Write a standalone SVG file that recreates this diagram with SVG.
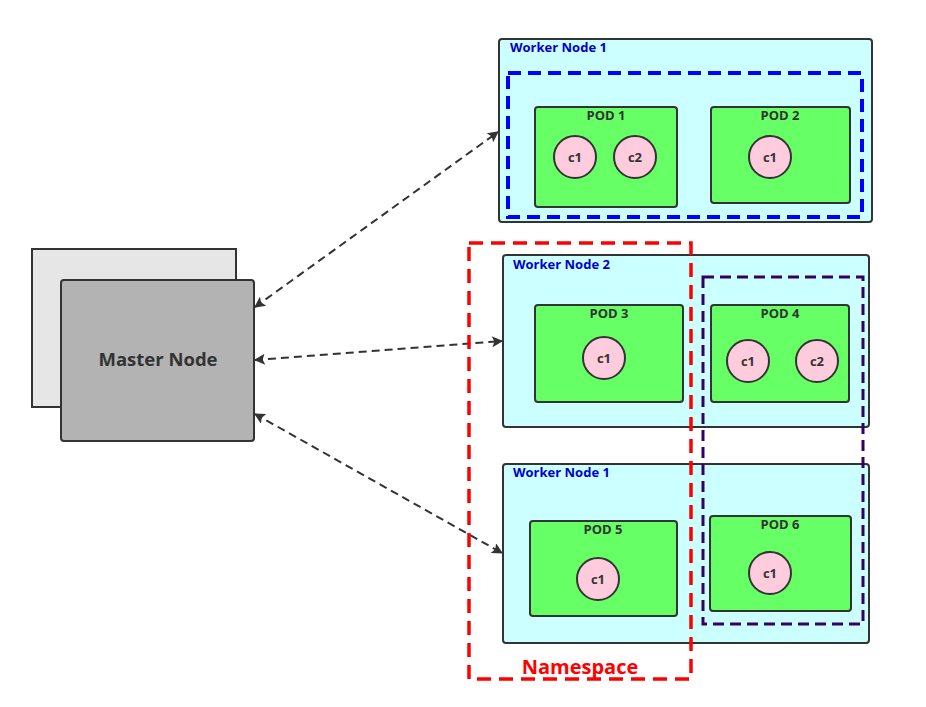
<svg xmlns="http://www.w3.org/2000/svg" width="926" height="707" viewBox="0 0 926 707">
<defs>
<marker id="ah" viewBox="0 0 10 10" refX="9" refY="5" markerWidth="14" markerHeight="11" markerUnits="userSpaceOnUse" orient="auto-start-reverse">
<path d="M0,0 L10,5 L0,10 L2,5 Z" fill="#333"/>
</marker>
<style>
text{font-family:"Open Sans","Liberation Sans",sans-serif;font-weight:bold}
.wn{fill:#ccffff;stroke:#333;stroke-width:2}
.wnl{fill:#0000cc;font-size:13px}
.pod{fill:#66ff66;stroke:#333;stroke-width:2}
.podl{fill:#333;font-size:13px;text-anchor:middle}
.c{fill:#ffccdd;stroke:#333;stroke-width:2}
.cl{fill:#333;font-size:13px;text-anchor:middle}
.conn{fill:none;stroke:#333;stroke-width:2;stroke-dasharray:8 5;marker-start:url(#ah);marker-end:url(#ah)}
</style>
</defs>
<rect width="926" height="707" fill="#fff"/>
<g id="master">
<rect x="32" y="249" width="204" height="158" fill="#e6e6e6" stroke="#333" stroke-width="2"/>
<rect x="61" y="280" width="193" height="161" rx="3" fill="#b3b3b3" stroke="#333" stroke-width="2"/>
<text x="158" y="366" font-size="18.5" fill="#333" text-anchor="middle">Master Node</text>
</g>
<g id="worker1">
<rect class="wn" x="499" y="39" width="373" height="183" rx="3"/>
<text class="wnl" x="510" y="52">Worker Node 1</text>
<rect x="508" y="73" width="354" height="144" fill="none" stroke="#0000ff" stroke-width="4" stroke-dasharray="13 7"/>
<g id="pod1"><rect class="pod" x="535" y="107" width="142" height="100" rx="3"/><text class="podl" x="606" y="120">POD 1</text>
<circle class="c" cx="575" cy="157" r="21"/><text class="cl" x="575" y="162">c1</text>
<circle class="c" cx="635" cy="157" r="21"/><text class="cl" x="635" y="162">c2</text></g>
<g id="pod2"><rect class="pod" x="711" y="107" width="139" height="96" rx="3"/><text class="podl" x="780" y="120">POD 2</text>
<circle class="c" cx="770" cy="157" r="21"/><text class="cl" x="770" y="162">c1</text></g>
</g>
<g id="worker2">
<rect class="wn" x="503" y="255" width="366" height="172" rx="3"/>
<text class="wnl" x="513" y="269">Worker Node 2</text>
<g id="pod3"><rect class="pod" x="535" y="305" width="148" height="97" rx="3"/><text class="podl" x="609" y="318">POD 3</text>
<circle class="c" cx="604" cy="358" r="21"/><text class="cl" x="604" y="363">c1</text></g>
<g id="pod4"><rect class="pod" x="711" y="305" width="138" height="97" rx="3"/><text class="podl" x="780" y="318">POD 4</text>
<circle class="c" cx="748" cy="361" r="21"/><text class="cl" x="748" y="366">c1</text>
<circle class="c" cx="817" cy="361" r="21"/><text class="cl" x="817" y="366">c2</text></g>
</g>
<g id="worker3">
<rect class="wn" x="503" y="464" width="366" height="179" rx="3"/>
<text class="wnl" x="513" y="477">Worker Node 1</text>
<g id="pod5"><rect class="pod" x="530" y="521" width="147" height="95" rx="3"/><text class="podl" x="603" y="534">POD 5</text>
<circle class="c" cx="598" cy="579" r="21"/><text class="cl" x="598" y="584">c1</text></g>
<g id="pod6"><rect class="pod" x="710" y="516" width="141" height="95" rx="3"/><text class="podl" x="780" y="529">POD 6</text>
<circle class="c" cx="770" cy="573" r="21"/><text class="cl" x="770" y="578">c1</text></g>
</g>
<g id="connectors">
<path class="conn" d="M255,307 L498,132"/>
<path class="conn" d="M255,360 L502,341"/>
<path class="conn" d="M255,414 L502,553"/>
</g>
<g id="namespace-purple">
<rect x="703" y="277" width="160" height="347" fill="none" stroke="#330066" stroke-width="3" stroke-dasharray="11 6"/>
</g>
<g id="namespace">
<rect x="469" y="243" width="222" height="436" fill="none" stroke="#ff0000" stroke-width="3.5" stroke-dasharray="14 8"/>
<text x="580" y="674" font-size="20" fill="#ff0000" text-anchor="middle">Namespace</text>
</g>
</svg>
